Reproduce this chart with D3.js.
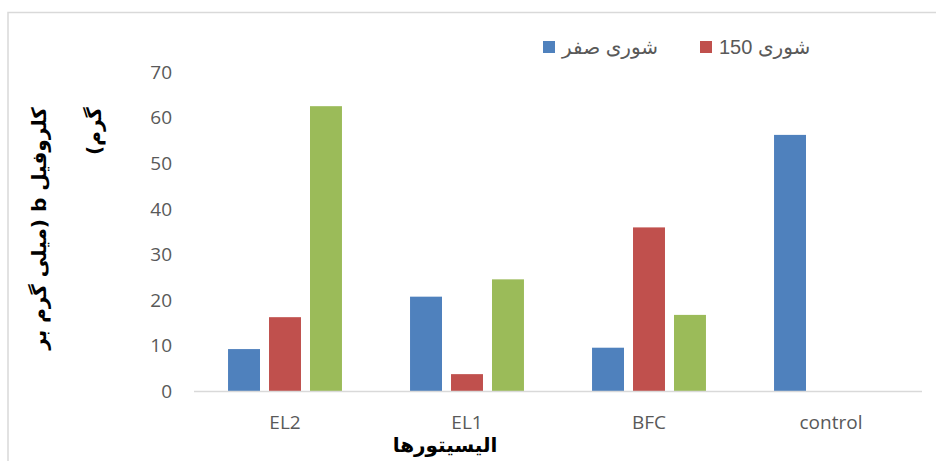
<!DOCTYPE html>
<html>
<head>
<meta charset="utf-8">
<script src="https://cdn.jsdelivr.net/npm/d3@7"></script>
<style>
  body { margin: 0; background: #fff; }
  svg { display: block; }
</style>
</head>
<body>
<div id="chart"></div>
<script>
const categories = ['EL2', 'EL1', 'BFC', 'control'];
const seriesNames = ['شوری صفر', 'شوری 150', 'series3'];
const salinity0 = [9.2, 20.7, 9.5, 56.2];
const salinity150 = [16.2, 3.7, 35.9, null];
const series3 = [62.5, 24.5, 16.7, null];
const yTicks = [0, 10, 20, 30, 40, 50, 60, 70];
const legendNames = ['شوری صفر', 'شوری 150'];

const colors = ['#4F81BD', '#C0504D', '#9BBB59'];
const seriesValues = [salinity0, salinity150, series3];

const W = 936, H = 461;
const margin = { top: 72, right: 14, bottom: 70, left: 194 };

const svg = d3.select('#chart').append('svg')
  .attr('width', W)
  .attr('height', H);

// chart frame (cut off at right/bottom like the reference)
svg.append('rect')
  .attr('x', 8).attr('y', 12.5)
  .attr('width', W).attr('height', H)
  .attr('fill', 'none')
  .attr('stroke', '#d9d9d9')
  .attr('stroke-width', 1.5);

const x0 = d3.scaleBand()
  .domain(categories)
  .range([margin.left, W - margin.right])
  .paddingInner(0.374)
  .paddingOuter(0.187);

const x1 = d3.scaleBand()
  .domain(seriesNames)
  .range([0, x0.bandwidth()])
  .paddingInner(0.22)
  .paddingOuter(0);

const y = d3.scaleLinear()
  .domain([0, 70])
  .range([H - margin.bottom, margin.top]);

// y tick labels
svg.append('g')
  .selectAll('text')
  .data(yTicks)
  .enter().append('text')
    .attr('x', margin.left - 22)
    .attr('y', d => y(d))
    .attr('dy', '0.36em')
    .attr('text-anchor', 'end')
    .style('font-family', '"Open Sans", Lato, sans-serif')
    .style('font-size', '19px')
    .style('fill', '#595959')
    .text(d => d);

// bars
const rows = categories.map((c, i) => ({ cat: c, vals: seriesValues.map((s, j) => ({ name: seriesNames[j], v: s[i], j })) }));

const groups = svg.selectAll('.group')
  .data(rows)
  .enter().append('g')
    .attr('class', 'group')
    .attr('transform', d => `translate(${x0(d.cat)},0)`);

groups.selectAll('rect')
  .data(d => d.vals.filter(v => v.v != null))
  .enter().append('rect')
    .attr('x', d => x1(d.name))
    .attr('y', d => y(d.v))
    .attr('width', x1.bandwidth())
    .attr('height', d => y(0) - y(d.v))
    .attr('fill', d => colors[d.j]);

// x axis line
svg.append('line')
  .attr('x1', margin.left).attr('x2', W - margin.right)
  .attr('y1', y(0) + 0.5).attr('y2', y(0) + 0.5)
  .attr('stroke', '#d9d9d9')
  .attr('stroke-width', 1.5);

// category labels
svg.append('g')
  .selectAll('text')
  .data(categories)
  .enter().append('text')
    .attr('x', d => x0(d) + x0.bandwidth() / 2)
    .attr('y', 429)
    .attr('text-anchor', 'middle')
    .style('font-family', '"Open Sans", Lato, sans-serif')
    .style('font-size', '19px')
    .style('fill', '#595959')
    .text(d => d);

// legend
const legendX = [543, 700];
const leg = svg.selectAll('.legend')
  .data(legendNames)
  .enter().append('g')
    .attr('class', 'legend')
    .attr('transform', (d, i) => `translate(${legendX[i]},41)`);

leg.append('rect')
  .attr('width', 12).attr('height', 12)
  .attr('fill', (d, i) => colors[i]);

leg.append('text')
  .attr('x', 19)
  .attr('y', 13)
  .style('font-family', '"Liberation Sans", "DejaVu Sans", sans-serif')
  .style('font-size', '20px')
  .style('fill', '#595959')
  .text(d => d);

// y axis title
const yTitle = svg.append('text')
  .attr('transform', 'translate(0,107) rotate(-90)')
  .attr('direction', 'rtl')
  .attr('text-anchor', 'start')
  .style('font-family', '"DejaVu Sans", sans-serif')
  .style('font-weight', 'bold')
  .style('font-size', '20px')
  .style('fill', '#000');

yTitle.append('tspan')
  .attr('x', 0).attr('y', 46)
  .text('کلروفیل b (میلی گرم بر');
yTitle.append('tspan')
  .attr('x', 0).attr('y', 101)
  .text('گرم)');

// x axis title
svg.append('text')
  .attr('x', 445)
  .attr('y', 452)
  .attr('text-anchor', 'middle')
  .style('font-family', '"DejaVu Sans", sans-serif')
  .style('font-weight', 'bold')
  .style('font-size', '20px')
  .style('fill', '#000')
  .text('الیسیتورها');
</script>
</body>
</html>
